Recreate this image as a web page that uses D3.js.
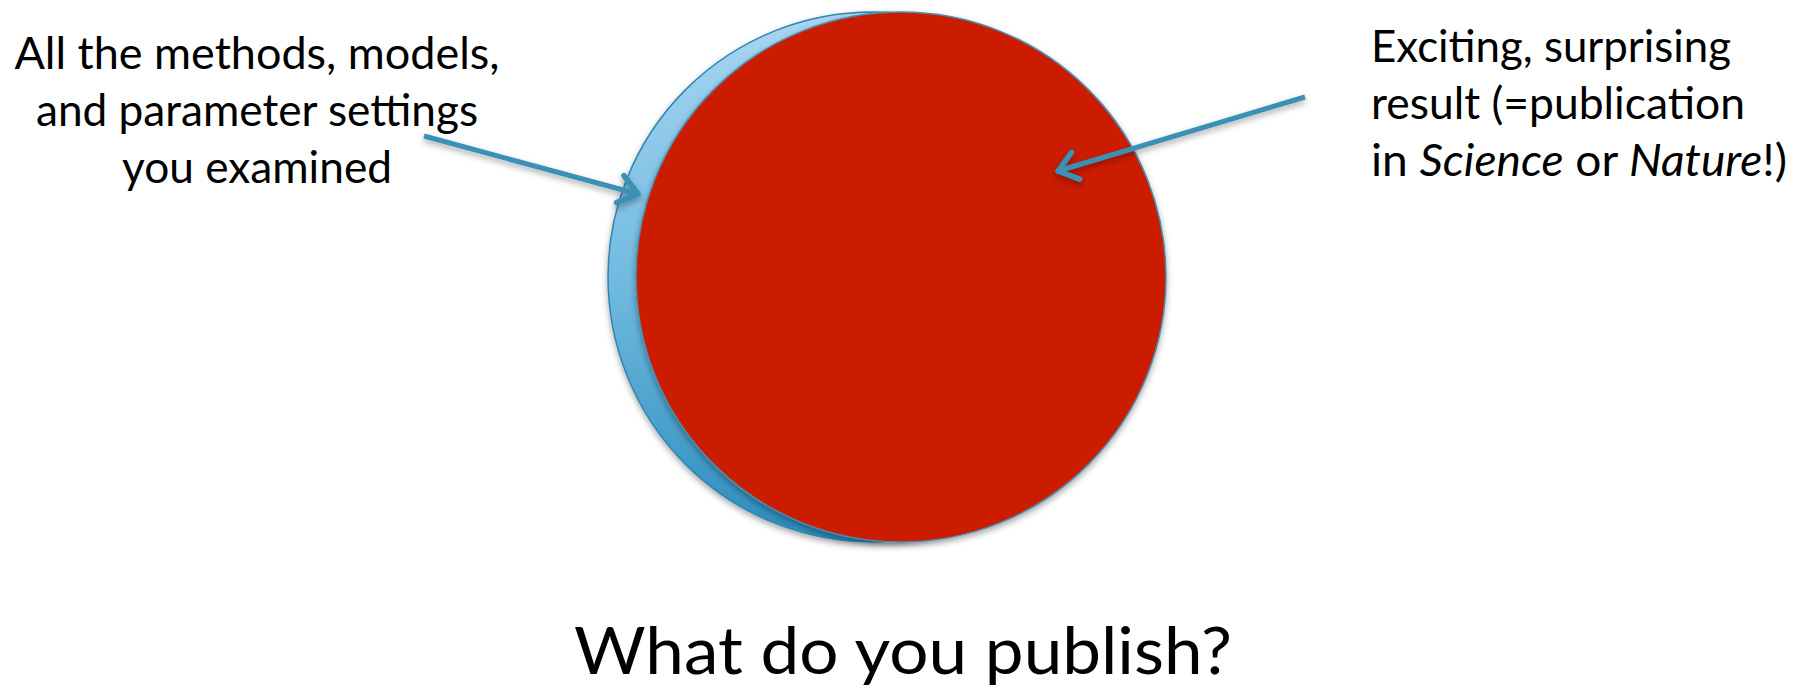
<!DOCTYPE html>
<html>
<head>
<meta charset="utf-8">
<script src="https://cdn.jsdelivr.net/npm/d3@7"></script>
<style>
  body { margin: 0; background: #fff; }
  text { font-family: Lato, "Open Sans", sans-serif; fill: #000; }
</style>
</head>
<body>
<div class="chart"></div>
<script>
// Text content of the slide
var leftLines = ["All the methods, models,", "and parameter settings", "you examined"];
var rightLines = [
  [{t: "Exciting, surprising", i: false}],
  [{t: "result (=publication", i: false}],
  [{t: "in ", i: false}, {t: "Science", i: true}, {t: " or ", i: false}, {t: "Nature", i: true}, {t: "!)", i: false}]
];
var titleText = "What do you publish?";

// Two sets: everything examined (blue) vs. what gets published (red)
var setNames = ["examined", "published"];
var setSizes = [1, 1];

var svgWidth = 1808;
var svgHeight = 687;

var svg = d3.select(".chart")
  .append("svg")
  .attr("width", svgWidth)
  .attr("height", svgHeight);

var defs = svg.append("defs");

var grad = defs.append("linearGradient")
  .attr("id", "blueGrad")
  .attr("x1", 0).attr("y1", 0).attr("x2", 0).attr("y2", 1);
grad.append("stop").attr("offset", "0%").attr("stop-color", "#a9d6f1");
grad.append("stop").attr("offset", "50%").attr("stop-color", "#72bbe0");
grad.append("stop").attr("offset", "100%").attr("stop-color", "#2b8cbb");

var shadow = defs.append("filter")
  .attr("id", "shadow")
  .attr("x", "-10%").attr("y", "-10%").attr("width", "120%").attr("height", "130%");
shadow.append("feDropShadow")
  .attr("dx", 0).attr("dy", 3)
  .attr("stdDeviation", 3)
  .attr("flood-color", "#000")
  .attr("flood-opacity", 0.35);

// radius scale from set size
var rScale = d3.scaleSqrt().domain([0, 1]).range([0, 265]);
var cy = 277;
var xPos = d3.scalePoint().domain(setNames).range([873, 901]);

var fills = {examined: "url(#blueGrad)", published: "#cb1e00"};
var strokes = {examined: "#2f86b0", published: "#4a8db0"};

svg.selectAll("circle.set")
  .data(setNames)
  .enter()
  .append("circle")
  .attr("class", "set")
  .attr("cx", d => xPos(d))
  .attr("cy", cy)
  .attr("r", (d, i) => rScale(setSizes[i]))
  .attr("fill", d => fills[d])
  .attr("stroke", d => strokes[d])
  .attr("stroke-width", 1.5)
  .attr("filter", "url(#shadow)");

// Arrows
var arrowColor = "#3a91b5";
var arrows = [
  {from: [424, 136], to: [638, 194]},
  {from: [1305, 97], to: [1058, 171]}
];

function headPath(a) {
  var dx = a.to[0] - a.from[0], dy = a.to[1] - a.from[1];
  var ang = Math.atan2(dy, dx);
  var len = 23, spread = 0.65;
  var p1 = [a.to[0] - len * Math.cos(ang - spread), a.to[1] - len * Math.sin(ang - spread)];
  var p2 = [a.to[0] - len * Math.cos(ang + spread), a.to[1] - len * Math.sin(ang + spread)];
  return "M" + p1 + "L" + a.to + "L" + p2;
}

var arrowG = svg.append("g").attr("filter", "url(#shadow)");
arrowG.selectAll("line")
  .data(arrows)
  .enter()
  .append("line")
  .attr("x1", d => d.from[0]).attr("y1", d => d.from[1])
  .attr("x2", d => d.to[0]).attr("y2", d => d.to[1])
  .attr("stroke", arrowColor)
  .attr("stroke-width", 5);

arrowG.selectAll("path")
  .data(arrows)
  .enter()
  .append("path")
  .attr("d", headPath)
  .attr("fill", "none")
  .attr("stroke", arrowColor)
  .attr("stroke-width", 5.5)
  .attr("stroke-linecap", "round")
  .attr("stroke-linejoin", "round");

// Left label (centered)
var leftWidths = [485, 442, 270];
svg.selectAll("text.left")
  .data(leftLines)
  .enter()
  .append("text")
  .attr("class", "left")
  .attr("x", 257)
  .attr("y", (d, i) => 69 + i * 57)
  .attr("text-anchor", "middle")
  .attr("font-size", 44)
  .attr("textLength", (d, i) => leftWidths[i])
  .attr("lengthAdjust", "spacingAndGlyphs")
  .text(d => d);

// Right label (left aligned)
var rightWidths = [360, 374, 416];
var rt = svg.selectAll("text.right")
  .data(rightLines)
  .enter()
  .append("text")
  .attr("class", "right")
  .attr("x", 1371)
  .attr("y", (d, i) => 62 + i * 57)
  .attr("font-size", 44)
  .attr("textLength", (d, i) => rightWidths[i])
  .attr("lengthAdjust", "spacingAndGlyphs");

rt.selectAll("tspan")
  .data(d => d)
  .enter()
  .append("tspan")
  .attr("font-style", d => d.i ? "italic" : "normal")
  .text(d => d.t);

// Title
svg.append("text")
  .attr("x", 903)
  .attr("y", 674)
  .attr("text-anchor", "middle")
  .attr("font-size", 66)
  .attr("textLength", 658)
  .attr("lengthAdjust", "spacingAndGlyphs")
  .text(titleText);
</script>
</body>
</html>
